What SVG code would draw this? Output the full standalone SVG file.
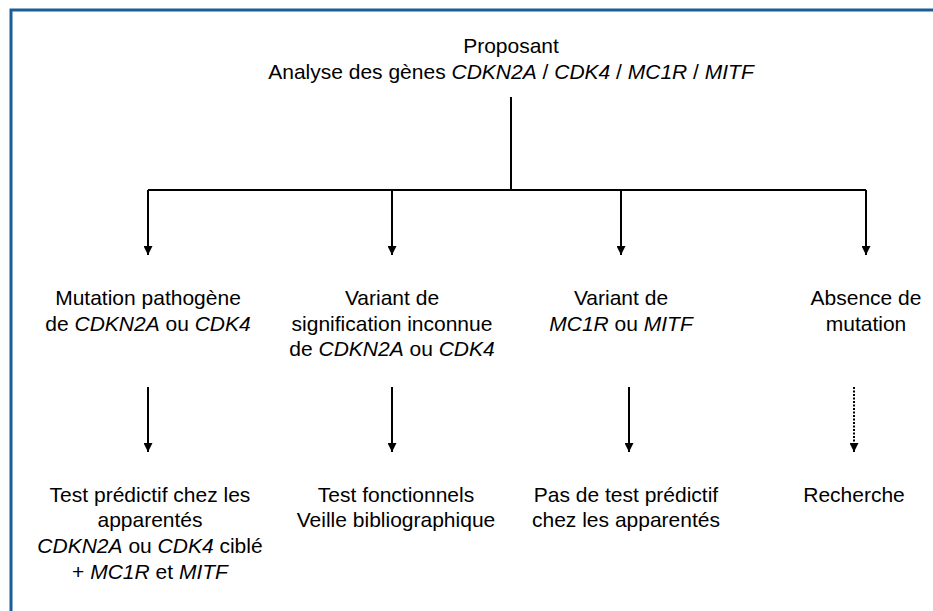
<svg xmlns="http://www.w3.org/2000/svg" width="933" height="611" viewBox="0 0 933 611">
<style>
text{font-family:"Liberation Sans",Arial,sans-serif;font-size:21px;fill:#000;text-anchor:middle}
.i{font-style:italic}
.ln{stroke:#000;stroke-width:2;fill:none}
.dot{stroke:#000;stroke-width:2;fill:none;stroke-dasharray:2 1.5}
</style>
<defs>
<marker id="ah" viewBox="0 0 10 10" refX="10" refY="5" markerWidth="4.5" markerHeight="4.5" orient="auto" markerUnits="strokeWidth">
<path d="M0,0L10,5L0,10z" fill="#000"/>
</marker>
</defs>
<rect x="0" y="0" width="933" height="611" fill="#fff"/>
<rect x="11" y="10" width="1000" height="700" fill="none" stroke="#1b5d97" stroke-width="3"/>
<g id="connectors">
<path class="ln" d="M511,97V190"/>
<path class="ln" d="M148,190H866"/>
<path class="ln" d="M148,190V255" marker-end="url(#ah)"/>
<path class="ln" d="M392,190V255" marker-end="url(#ah)"/>
<path class="ln" d="M621,190V255" marker-end="url(#ah)"/>
<path class="ln" d="M866,190V255" marker-end="url(#ah)"/>
<path class="ln" d="M148,387V452" marker-end="url(#ah)"/>
<path class="ln" d="M392,387V452" marker-end="url(#ah)"/>
<path class="ln" d="M629,387V452" marker-end="url(#ah)"/>
<path class="dot" d="M854,387V452" marker-end="url(#ah)"/>
</g>
<g id="proposant">
<text x="511" y="53">Proposant</text>
<text x="511" y="79">Analyse des gènes <tspan class="i">CDKN2A</tspan> / <tspan class="i">CDK4</tspan> / <tspan class="i">MC1R</tspan> / <tspan class="i">MITF</tspan></text>
</g>
<g id="mutation">
<text x="148" y="305">Mutation pathogène</text>
<text x="148" y="331">de <tspan class="i">CDKN2A</tspan> ou <tspan class="i">CDK4</tspan></text>
</g>
<g id="variant-inconnu">
<text x="392" y="305">Variant de</text>
<text x="392" y="331">signification inconnue</text>
<text x="392" y="356">de <tspan class="i">CDKN2A</tspan> ou <tspan class="i">CDK4</tspan></text>
</g>
<g id="variant-mc1r">
<text x="621" y="305">Variant de</text>
<text x="621" y="331"><tspan class="i">MC1R</tspan> ou <tspan class="i">MITF</tspan></text>
</g>
<g id="absence">
<text x="866" y="305">Absence de</text>
<text x="866" y="331">mutation</text>
</g>
<g id="test-predictif">
<text x="150" y="502">Test prédictif chez les</text>
<text x="150" y="527">apparentés</text>
<text x="150" y="553"><tspan class="i">CDKN2A</tspan> ou <tspan class="i">CDK4</tspan> ciblé</text>
<text x="150" y="579">+ <tspan class="i">MC1R</tspan> et <tspan class="i">MITF</tspan></text>
</g>
<g id="test-fonctionnels">
<text x="396" y="502">Test fonctionnels</text>
<text x="396" y="527">Veille bibliographique</text>
</g>
<g id="pas-de-test">
<text x="626" y="502">Pas de test prédictif</text>
<text x="626" y="527">chez les apparentés</text>
</g>
<g id="recherche">
<text x="854" y="502">Recherche</text>
</g>
</svg>
